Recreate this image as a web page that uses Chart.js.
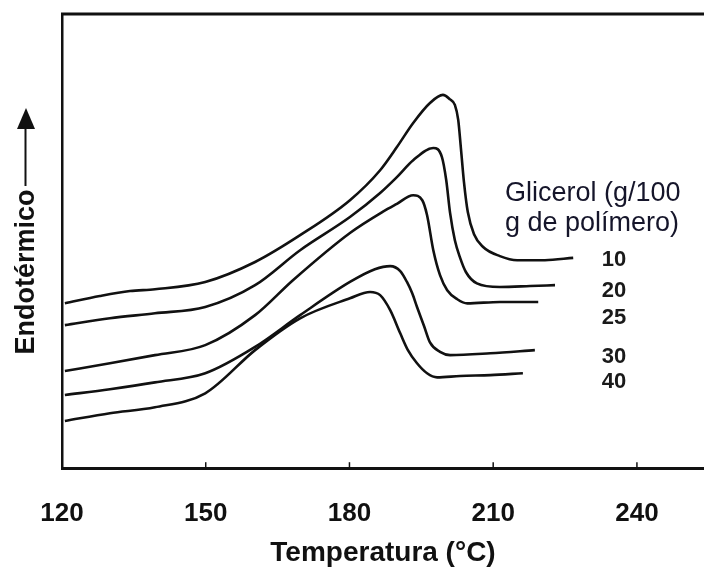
<!DOCTYPE html>
<html>
<head>
<meta charset="utf-8">
<script src="https://cdn.jsdelivr.net/npm/chart.js@4.4.1/dist/chart.umd.min.js"></script>
<style>
html, body { margin: 0; padding: 0; background: #fff; }
#wrap { width: 704px; height: 572px; }
</style>
</head>
<body>
<div id="wrap"><canvas id="dsc"></canvas></div>
<script>
const FONT = "'Liberation Sans', Arial, Helvetica, sans-serif";

// glicerol (g/100 g de polímero), one curve each
const glicerol = ['10', '20', '25', '30', '40'];
const xTicks = [120, 150, 180, 210, 240];

const temp10 = [120.6, 127.9, 134.2, 139.4, 149.9, 160.3, 169.7, 180.1, 186.4, 189.9, 193.3, 196.8, 199.5, 201.0, 202.0, 202.7, 203.3, 203.9, 204.7, 206.0, 207.9, 211.4, 215.0, 220.8, 226.7];
const endo10 = [36.3, 37.9, 39.0, 39.4, 41.0, 45.4, 51.3, 59.0, 65.6, 70.7, 76.0, 80.4, 82.2, 81.2, 80.0, 76.7, 70.0, 63.0, 56.4, 51.5, 48.7, 46.7, 45.8, 45.8, 46.3];

const temp20 = [120.6, 130.0, 139.4, 149.9, 160.3, 169.7, 180.1, 186.4, 189.9, 193.3, 197.5, 199.3, 200.2, 201.0, 202.0, 203.1, 204.3, 206.6, 211.4, 217.7, 222.9];
const endo20 = [31.5, 33.0, 34.1, 35.5, 40.3, 48.0, 55.3, 60.6, 64.1, 67.8, 70.5, 68.5, 63.4, 56.2, 50.2, 46.3, 43.2, 40.7, 39.9, 40.1, 40.3];

const temp25 = [120.6, 130.0, 139.4, 149.9, 160.3, 168.2, 180.1, 187.0, 189.9, 193.3, 195.2, 196.2, 197.5, 198.9, 200.4, 202.5, 204.6, 211.4, 219.4];
const endo25 = [21.4, 23.1, 24.9, 27.1, 33.7, 41.4, 51.8, 56.5, 58.2, 60.1, 59.0, 55.7, 48.0, 42.5, 39.2, 37.2, 36.3, 36.6, 36.6];

const temp30 = [120.6, 130.0, 139.4, 149.9, 160.3, 169.7, 180.1, 185.3, 188.5, 190.6, 192.0, 193.1, 194.1, 195.6, 196.8, 198.9, 201.0, 209.4, 218.7];
const endo30 = [16.1, 17.4, 18.9, 20.9, 26.7, 33.7, 41.0, 43.8, 44.5, 43.4, 41.0, 38.5, 35.5, 31.2, 27.7, 25.6, 24.9, 25.3, 26.0];

const temp40 = [120.6, 130.0, 139.4, 149.9, 160.3, 169.7, 180.1, 184.3, 186.4, 188.5, 190.6, 192.2, 194.1, 196.2, 198.3, 203.1, 209.4, 216.2];
const endo40 = [10.4, 12.1, 13.4, 16.5, 26.0, 33.0, 37.4, 38.8, 38.1, 34.8, 29.7, 26.0, 23.1, 20.9, 20.0, 20.3, 20.5, 20.9];

const temps = [temp10, temp20, temp25, temp30, temp40];
const endos = [endo10, endo20, endo25, endo30, endo40];

function toPoints(xs, ys) {
    return xs.map((x, i) => ({ x: x, y: ys[i] }));
}

// frame top, small inner ticks, y title with arrow, curve labels
const decor = {
    id: 'decor',
    afterDraw(chart) {
        const ctx = chart.ctx;
        const area = chart.chartArea;
        const xs = chart.scales.x;
        ctx.save();
        ctx.strokeStyle = '#111';
        ctx.fillStyle = '#111';

        ctx.lineWidth = 3;
        ctx.beginPath();
        ctx.moveTo(area.left - 1, area.top);
        ctx.lineTo(chart.width, area.top);
        ctx.stroke();

        ctx.lineWidth = 1.5;
        xTicks.slice(1).forEach(v => {
            const px = xs.getPixelForValue(v);
            ctx.beginPath();
            ctx.moveTo(px, area.bottom);
            ctx.lineTo(px, area.bottom - 6);
            ctx.stroke();
        });

        ctx.save();
        ctx.translate(27, 272);
        ctx.rotate(-Math.PI / 2);
        ctx.font = 'bold 27px ' + FONT;
        ctx.textAlign = 'center';
        ctx.textBaseline = 'middle';
        ctx.fillText('Endotérmico', 0, 0);
        ctx.restore();

        ctx.lineWidth = 2;
        ctx.beginPath();
        ctx.moveTo(25.5, 186);
        ctx.lineTo(25.5, 126);
        ctx.stroke();
        ctx.beginPath();
        ctx.moveTo(26, 108);
        ctx.lineTo(35, 129);
        ctx.lineTo(17, 129);
        ctx.closePath();
        ctx.fill();

        ctx.fillStyle = '#15152a';
        ctx.font = '27px ' + FONT;
        ctx.textAlign = 'left';
        ctx.textBaseline = 'middle';
        ctx.fillText('Glicerol (g/100', 505, 194);
        ctx.fillText('g de polímero)', 505, 224);

        const nudge = [2, 6, 16, 7, 9];
        ctx.fillStyle = '#1a1a1a';
        ctx.font = 'bold 22px ' + FONT;
        ctx.textAlign = 'center';
        glicerol.forEach((g, i) => {
            const pts = chart.getDatasetMeta(i).data;
            const last = pts[pts.length - 1];
            ctx.fillText(g, 614, last.y + nudge[i]);
        });
        ctx.restore();
    }
};

new Chart(document.getElementById('dsc'), {
    type: 'line',
    data: {
        datasets: glicerol.map((g, i) => ({
            label: g,
            data: toPoints(temps[i], endos[i]),
            borderColor: '#111',
            borderWidth: 2.6,
            pointRadius: 0,
            fill: false,
            cubicInterpolationMode: 'monotone'
        }))
    },
    options: {
        responsive: true,
        maintainAspectRatio: false,
        animation: false,
        layout: { padding: { left: 62, top: 14, right: 0, bottom: 2 } },
        plugins: {
            legend: { display: false },
            tooltip: { enabled: false }
        },
        scales: {
            x: {
                type: 'linear',
                min: 120,
                max: 254,
                afterBuildTicks: s => { s.ticks = xTicks.map(v => ({ value: v })); },
                grid: { display: false, drawTicks: false },
                border: { display: true, color: '#111', width: 3 },
                ticks: {
                    padding: 30,
                    color: '#111',
                    font: { family: FONT, size: 26, weight: 'bold' }
                },
                title: {
                    display: true,
                    text: 'Temperatura (°C)',
                    color: '#111',
                    font: { family: FONT, size: 28, weight: 'bold' },
                    padding: { top: -23, bottom: 0 }
                }
            },
            y: {
                min: 0,
                max: 100,
                grid: { display: false, drawTicks: false },
                ticks: { display: false },
                border: { display: true, color: '#111', width: 2.5 }
            }
        }
    },
    plugins: [decor]
});
</script>
</body>
</html>
